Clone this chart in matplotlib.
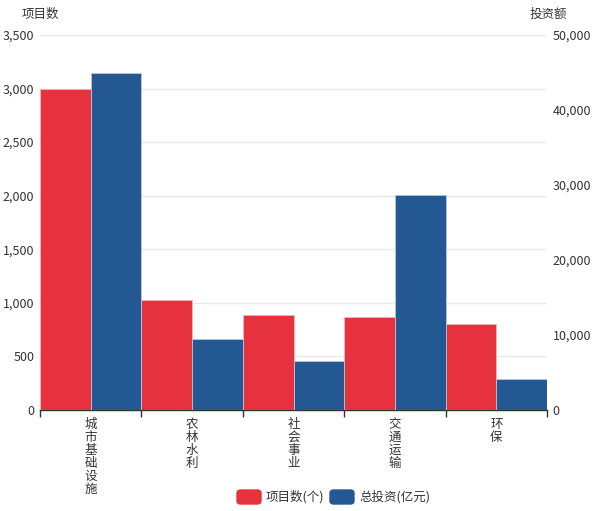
import matplotlib.pyplot as plt
import numpy as np
from matplotlib.patches import FancyBboxPatch
from matplotlib.ticker import FuncFormatter, MultipleLocator

plt.rcParams['font.family'] = ['Noto Sans CJK SC', 'DejaVu Sans']

# data
categories = ["城市基础设施", "农林水利", "社会事业", "交通运输", "环保"]
project_counts = [2996, 1024, 884, 865, 800]
investment = [44950, 9430, 6530, 28670, 4130]

red = "#e5323e"
blue = "#235892"
grid_c = "#e8e8e8"
text_c = "#333333"

fig = plt.figure(figsize=(6.0, 5.11), dpi=100)
ax = fig.add_axes([0.0667, 0.1977, 0.845, 0.7338])
ax2 = ax.twinx()

x = np.arange(len(categories))
w = 0.5
ax.bar(x - w / 2, project_counts, width=w, color=red, edgecolor="#f3b5b9",
       linewidth=0.6, zorder=3)
ax2.bar(x + w / 2, investment, width=w, color=blue, edgecolor="#b8c8dc",
        linewidth=0.6, zorder=3)

ax.set_xlim(-0.5, len(categories) - 0.5)
ax.set_ylim(0, 3500)
ax2.set_ylim(0, 50000)
ax.yaxis.set_major_locator(MultipleLocator(500))
ax2.yaxis.set_major_locator(MultipleLocator(10000))
fmt = FuncFormatter(lambda v, p: f"{int(v):,}")
ax.yaxis.set_major_formatter(fmt)
ax2.yaxis.set_major_formatter(fmt)

ax.grid(axis="y", color=grid_c, linewidth=1, zorder=0)
ax.set_axisbelow(True)
ax2.set_zorder(ax.get_zorder() + 1)
ax2.patch.set_visible(False)

for a in (ax, ax2):
    for s in ("top", "left", "right"):
        a.spines[s].set_visible(False)
    a.tick_params(axis="y", length=0, labelsize=9, labelcolor=text_c, pad=4)
ax2.spines["bottom"].set_visible(False)
ax.spines["bottom"].set_color(text_c)
ax.spines["bottom"].set_linewidth(1)

# category boundary ticks, labels centred between them
ax.set_xticks(np.arange(len(categories) + 1) - 0.5)
ax.set_xticklabels([])
ax.tick_params(axis="x", length=5, color=text_c, width=1)
for i, c in enumerate(categories):
    ax.text(i, -0.022, "\n".join(c), transform=ax.get_xaxis_transform(),
            ha="center", va="top", fontsize=9, color=text_c, linespacing=1.0)

fig.text(40 / 600, 1 - 14 / 511, "项目数", ha="center", va="center",
         fontsize=9, color=text_c)
fig.text(548 / 600, 1 - 14 / 511, "投资额", ha="center", va="center",
         fontsize=9, color=text_c)

# legend
legend_items = [("项目数(个)", red, 237), ("总投资(亿元)", blue, 330)]
for label, col, px in legend_items:
    fig.patches.append(FancyBboxPatch((px / 600, 1 - 504 / 511), 24 / 600, 14 / 511,
                                      boxstyle="round,pad=0,rounding_size=0.006",
                                      transform=fig.transFigure, color=col))
    fig.text((px + 29) / 600, 1 - 497 / 511, label, ha="left", va="center",
             fontsize=9, color=text_c)

fig.savefig("out.png", dpi=100)
